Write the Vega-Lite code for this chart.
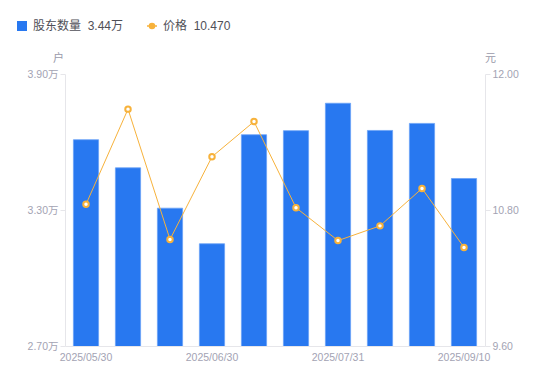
{
  "$schema": "https://vega.github.io/schema/vega-lite/v6.json",
  "width": 420,
  "height": 272,
  "autosize": {"type": "none"},
  "padding": {"left": 65, "top": 74, "right": 65, "bottom": 35},
  "background": "#ffffff",
  "config": {
    "view": {"stroke": null},
    "font": "Liberation Sans, Noto Sans CJK SC, sans-serif",
    "axis": {"labelFont": "Liberation Sans, Noto Sans CJK SC, sans-serif", "titleFont": "Noto Sans CJK SC, sans-serif"}
  },
  "data": {
    "values": [
      {"date": "2025/05/30", "holders": 3.61, "price": 10.85},
      {"date": "2025/06/10", "holders": 3.486, "price": 11.69},
      {"date": "2025/06/20", "holders": 3.308, "price": 10.54},
      {"date": "2025/06/30", "holders": 3.151, "price": 11.27},
      {"date": "2025/07/10", "holders": 3.632, "price": 11.58},
      {"date": "2025/07/20", "holders": 3.65, "price": 10.82},
      {"date": "2025/07/31", "holders": 3.771, "price": 10.53},
      {"date": "2025/08/15", "holders": 3.651, "price": 10.66},
      {"date": "2025/08/29", "holders": 3.682, "price": 10.99},
      {"date": "2025/09/10", "holders": 3.439, "price": 10.47}
    ]
  },
  "encoding": {
    "x": {
      "field": "date",
      "type": "ordinal",
      "sort": null,
      "scale": {"paddingInner": 0.4, "paddingOuter": 0.2},
      "axis": {
        "title": null,
        "values": ["2025/05/30", "2025/06/30", "2025/07/31", "2025/09/10"],
        "labelAngle": 0,
        "ticks": false,
        "labelPadding": 6,
        "labelFontSize": 10.5,
        "labelColor": "#a3a3b3",
        "domainColor": "#e6e6ea",
        "grid": false
      }
    }
  },
  "layer": [
    {
      "mark": {"type": "bar", "stroke": "#6aa2f6", "strokeWidth": 0.8, "clip": true},
      "encoding": {
        "y": {
          "field": "holders",
          "type": "quantitative",
          "scale": {"domain": [2.7, 3.9], "zero": false, "nice": false},
          "axis": {
            "orient": "left",
            "values": [2.7, 3.3, 3.9],
            "labelExpr": "format(datum.value, '.2f') + '万'",
            "grid": false,
            "tickSize": 5,
            "tickColor": "#e6e6ea",
            "domainColor": "#e6e6ea",
            "labelColor": "#a3a3b3",
            "labelFontSize": 10.5,
            "labelPadding": 2,
            "title": "户",
            "titleAngle": 0,
            "titleX": -7,
            "titleY": -13,
            "titleAlign": "center",
            "titleBaseline": "alphabetic",
            "titleColor": "#9a9aaa",
            "titleFontSize": 11,
            "titleFontWeight": "normal"
          }
        },
        "color": {
          "datum": "股东数量",
          "scale": {"domain": ["股东数量", "价格"], "range": ["#2878F0", "#F7B23B"]},
          "legend": {
            "title": null,
            "orient": "none",
            "legendX": -49,
            "legendY": -54,
            "direction": "horizontal",
            "labelFontSize": 12,
            "labelColor": "#505058",
            "labelFont": "Liberation Sans, Noto Sans CJK SC, sans-serif",
            "labelOffset": 5,
            "columnPadding": 19,
            "symbolSize": 100,
            "labelExpr": "datum.label == '股东数量' ? '股东数量\u00a0\u00a03.44万' : '价格\u00a0\u00a010.470'",
            "encode": {
              "symbols": {
                "update": {
                  "shape": {"signal": "datum.value == '价格' ? 'M-1,0L-0.5,0M0.5,0L1,0M0.5,0A0.5,0.5,0,1,1,-0.5,0A0.5,0.5,0,1,1,0.5,0' : 'square'"},
                  "fill": {"signal": "datum.value == '价格' ? '#ffffff' : '#2878F0'"},
                  "stroke": {"signal": "datum.value == '价格' ? '#F7B23B' : '#2878F0'"},
                  "strokeWidth": {"signal": "datum.value == '价格' ? 1.6 : 0"},
                  "opacity": {"value": 1}
                }
              }
            }
          }
        }
      }
    },
    {
      "encoding": {
        "y": {
          "field": "price",
          "type": "quantitative",
          "scale": {"domain": [9.6, 12.0], "zero": false, "nice": false},
          "axis": {
            "orient": "right",
            "values": [9.6, 10.8, 12.0],
            "format": ".2f",
            "grid": false,
            "tickSize": 5,
            "tickColor": "#e6e6ea",
            "domainColor": "#e6e6ea",
            "labelColor": "#a3a3b3",
            "labelFontSize": 10.5,
            "labelPadding": 2,
            "title": "元",
            "titleAngle": 0,
            "titleX": 5,
            "titleY": -13,
            "titleAlign": "center",
            "titleBaseline": "alphabetic",
            "titleColor": "#9a9aaa",
            "titleFontSize": 11,
            "titleFontWeight": "normal"
          }
        }
      },
      "layer": [
        {
          "mark": {"type": "line", "strokeWidth": 1, "color": "#F7B23B"},
          "encoding": {
            "color": {
              "datum": "价格",
              "legend": {
                "title": null,
                "orient": "none",
                "legendX": -49,
                "legendY": -54,
                "direction": "horizontal",
                "labelFontSize": 12,
                "labelColor": "#505058",
                "labelFont": "Liberation Sans, Noto Sans CJK SC, sans-serif",
                "labelOffset": 5,
                "columnPadding": 19,
                "symbolSize": 100,
                "labelExpr": "datum.label == '股东数量' ? '股东数量\u00a0\u00a03.44万' : '价格\u00a0\u00a010.470'",
                "encode": {
                  "symbols": {
                    "update": {
                      "shape": {"signal": "datum.value == '价格' ? 'M-1,0L-0.5,0M0.5,0L1,0M0.5,0A0.5,0.5,0,1,1,-0.5,0A0.5,0.5,0,1,1,0.5,0' : 'square'"},
                      "fill": {"signal": "datum.value == '价格' ? '#ffffff' : '#2878F0'"},
                      "stroke": {"signal": "datum.value == '价格' ? '#F7B23B' : '#2878F0'"},
                      "strokeWidth": {"signal": "datum.value == '价格' ? 1.6 : 0"},
                      "opacity": {"value": 1}
                    }
                  }
                }
              }
            }
          }
        },
        {
          "mark": {"type": "point", "filled": true, "fill": "#ffffff", "stroke": "#F7B23B", "strokeWidth": 2, "size": 30, "opacity": 1},
          "encoding": {}
        }
      ]
    }
  ],
  "resolve": {"scale": {"y": "independent"}}
}
